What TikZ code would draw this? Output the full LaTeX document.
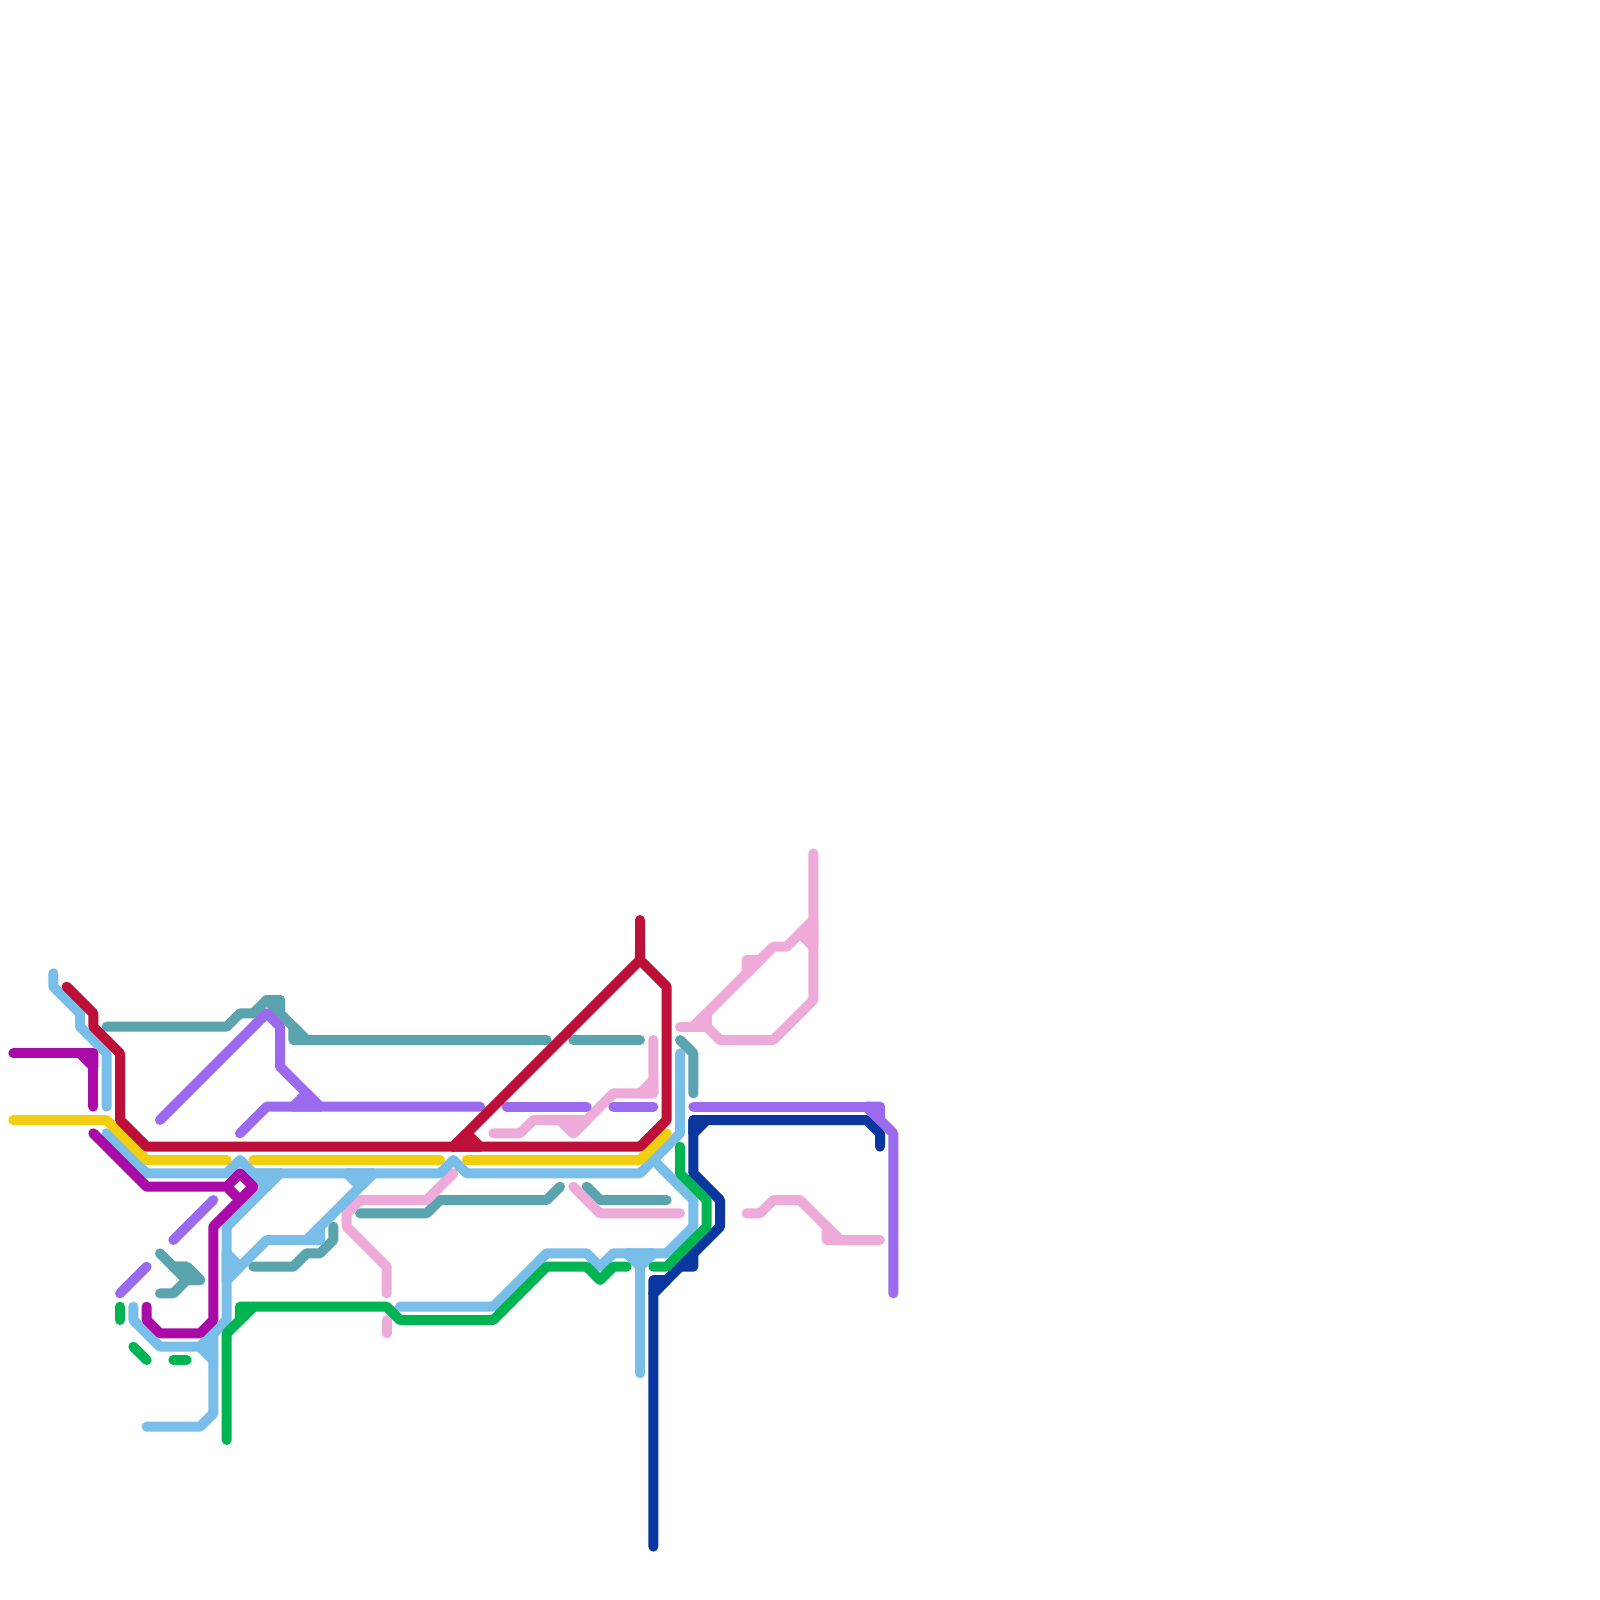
\documentclass[tikz,border=0pt]{standalone}
\definecolor{cred}{HTML}{BD1038}
\definecolor{cmag}{HTML}{AA0AA8}
\definecolor{cyel}{HTML}{F2CE11}
\definecolor{cblue}{HTML}{79BDE9}
\definecolor{cteal}{HTML}{5AA4AF}
\definecolor{cpur}{HTML}{9B6AEE}
\definecolor{cgreen}{HTML}{00B451}
\definecolor{cnavy}{HTML}{0A36A0}
\definecolor{cpink}{HTML}{EEAAD9}
\tikzset{metro/.style={line width=0.75cm,line cap=round,line join=round},
 lteal/.style={metro,draw=cteal},lpink/.style={metro,draw=cpink},lblue/.style={metro,draw=cblue},
 lnavy/.style={metro,draw=cnavy},lpur/.style={metro,draw=cpur},lgreen/.style={metro,draw=cgreen},
 lyel/.style={metro,draw=cyel},lmag/.style={metro,draw=cmag},lred/.style={metro,draw=cred}}
\begin{document}
\begin{tikzpicture}[x=1cm,y=-1cm]
\fill[white] (0,0) rectangle (120,120);
\useasboundingbox (0,0) rectangle (120,120);
% teal
\draw[lteal] (8,77)--(17,77)--(18,76)--(19,76)--(20,75)--(21,75)--(21,76);
\draw[lteal] (20,75)--(23,78)--(41,78);
\draw[lteal,fill=cteal] (20,75)--(21,75)--(21,76)--cycle;
\draw[lteal,fill=cteal] (22,77)--(22,78)--(23,78)--cycle;
\draw[lteal] (43,78)--(48,78);
\draw[lteal] (51,78)--(52,79)--(52,82);
\draw[lteal] (12,94)--(14,96)--(15,96)--(14,95)--(13,95);
\draw[lteal,fill=cteal] (13,95)--(14,95)--(15,96)--(14,96)--cycle;
\draw[lteal] (14,96)--(13,97)--(12,97);
\draw[lteal] (19,95)--(22,95)--(23,94)--(24,94)--(25,93)--(25,92);
\draw[lteal] (27,91)--(32,91)--(33,90)--(41,90)--(42,89);
\draw[lteal] (44,89)--(45,90)--(50,90);
% pink
\draw[lpink] (34,88)--(32,90)--(27,90)--(26,91)--(26,92)--(29,95)--(29,97);
\draw[lpink] (29,99)--(29,100);
\draw[lpink] (43,89)--(45,91)--(51,91);
\draw[lpink] (37,85)--(39,85)--(40,84)--(42,84)--(43,85)--(46,82)--(49,82)--(49,78);
\draw[lpink,fill=cpink] (42,84)--(44,84)--(43,85)--cycle;
\draw[lpink,fill=cpink] (48,82)--(49,81)--(49,82)--cycle;
\draw[lpink] (61,64)--(61,75)--(58,78)--(54,78)--(53,77)--(53,76);
\draw[lpink] (51,77)--(53,77);
\draw[lpink] (52,77)--(58,71)--(59,71)--(61,69);
\draw[lpink,fill=cpink] (52,77)--(53,76)--(53,77)--cycle;
\draw[lpink,fill=cpink] (56,73)--(56,72)--(57,72)--cycle;
\draw[lpink,fill=cpink] (60,70)--(61,69)--(61,71)--cycle;
\draw[lpink] (56,91)--(57,91)--(58,90)--(60,90)--(63,93)--(66,93);
\draw[lpink,fill=cpink] (62,92)--(62,93)--(63,93)--cycle;
% blue
\draw[lblue] (4,73)--(4,74)--(6,76)--(6,77)--(8,79)--(8,83);
\draw[lblue] (8,85)--(11,88)--(17,88)--(18,87)--(19,88)--(33,88)--(34,87)--(35,88)--(48,88)--(51,85)--(51,79);
\draw[lblue,fill=cblue] (19,88)--(21,88)--(20,89)--cycle;
\draw[lblue] (17,92)--(21,88);
\draw[lblue,fill=cblue] (26,88)--(28,88)--(27,89)--cycle;
\draw[lblue] (28,88)--(23,93);
\draw[lblue,fill=cblue] (23,93)--(24,92)--(24,93)--cycle;
\draw[lblue] (24,93)--(20,93)--(17,96);
\draw[lblue] (17,92)--(17,99)--(15,101)--(12,101)--(10,99)--(10,98);
\draw[lblue,fill=cblue] (17,94)--(18,95)--(17,96)--cycle;
\draw[lblue] (15,101)--(16,102)--(16,106)--(15,107)--(11,107);
\draw[lblue,fill=cblue] (15,101)--(16,100)--(16,102)--cycle;
\draw[lblue] (49,87)--(52,90)--(52,92)--(50,94)--(46,94)--(45,95)--(44,94)--(41,94)--(37,98)--(30,98);
\draw[lblue,fill=cblue] (47,94)--(49,94)--(48,95)--cycle;
\draw[lblue] (48,95)--(48,103);
% navy
\draw[lnavy] (66,86)--(66,85)--(65,84)--(52,84)--(52,88)--(54,90)--(54,92)--(49,97)--(49,116);
\draw[lnavy,fill=cnavy] (52,85)--(53,84)--(52,84)--cycle;
\draw[lnavy,fill=cnavy] (52,94)--(52,95)--(51,95)--cycle;
\draw[lnavy,fill=cnavy] (49,96)--(50,96)--(49,97)--cycle;
% purple
\draw[lpur] (12,84)--(20,76)--(21,77)--(21,80)--(24,83);
\draw[lpur] (18,85)--(20,83)--(36,83);
\draw[lpur,fill=cpur] (22,83)--(23,82)--(24,83)--cycle;
\draw[lpur] (16,90)--(13,93);
\draw[lpur] (11,95)--(9,97);
\draw[lpur] (38,83)--(44,83);
\draw[lpur] (46,83)--(49,83);
\draw[lpur] (52,83)--(66,83)--(66,84);
\draw[lpur,fill=cpur] (65,83)--(66,83)--(66,84)--cycle;
\draw[lpur] (65,83)--(67,85)--(67,97);
% green
\draw[lgreen] (51,86)--(51,88)--(53,90)--(53,92)--(50,95)--(49,95);
\draw[lgreen] (17,108)--(17,100)--(19,98)--(29,98)--(30,99)--(37,99)--(41,95)--(44,95)--(45,96)--(46,95)--(47,95);
\draw[lgreen,fill=cgreen] (18,99)--(18,98)--(19,98)--cycle;
\draw[lgreen] (9,98)--(9,99);
\draw[lgreen] (10,101)--(11,102);
\draw[lgreen] (13,102)--(14,102);
% yellow
\draw[lyel] (1,84)--(8,84)--(11,87)--(17,87);
\draw[lyel] (19,87)--(33,87);
\draw[lyel] (35,87)--(48,87)--(50,85);
% magenta
\draw[lmag] (1,79)--(7,79)--(7,83);
\draw[lmag,fill=cmag] (6,79)--(7,79)--(7,80)--cycle;
\draw[lmag] (7,85)--(11,89)--(17,89)--(18,90)--(19,89)--(18,88)--(17,89);
\draw[lmag] (19,89)--(16,92)--(16,99)--(15,100)--(12,100)--(11,99)--(11,98);
% red
\draw[lred] (5,74)--(7,76)--(7,77)--(9,79)--(9,84)--(11,86)--(48,86)--(50,84)--(50,74)--(48,72)--(48,69);
\draw[lred] (48,72)--(34,86);
\draw[lred,fill=cred] (34,86)--(35,85)--(36,86)--cycle;
\end{tikzpicture}
\end{document}
